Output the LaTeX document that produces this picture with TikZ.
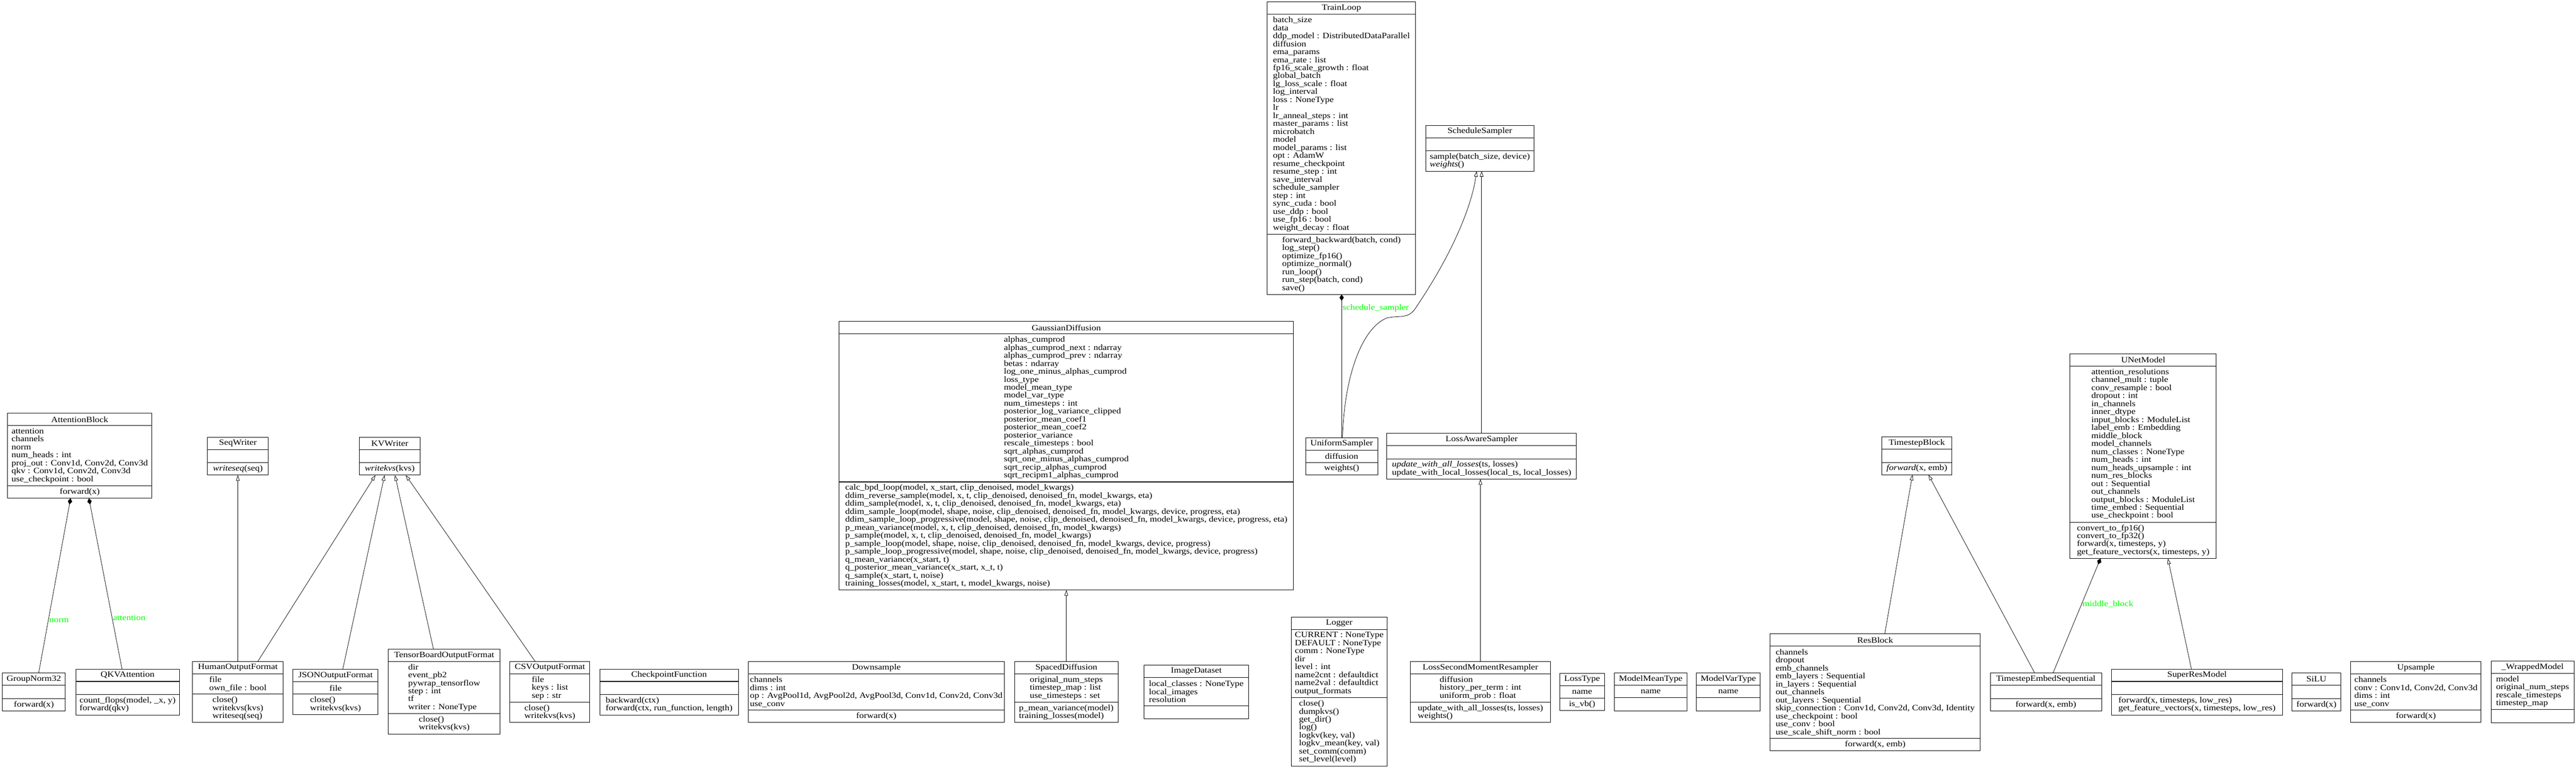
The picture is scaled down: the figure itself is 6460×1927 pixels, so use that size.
\documentclass[tikz,border=0pt]{standalone}
\usepackage{fontspec}
\setmainfont{Liberation Serif}[FakeStretch=1.137]
\usetikzlibrary{arrows.meta,calc,fit}
\definecolor{labelgreen}{RGB}{0,255,0}
\newcommand\umlfont{\fontsize{10.2pt}{10pt}\selectfont}
\tikzset{
  umlframe/.style={draw, line width=0.65pt, inner sep=0pt, outer sep=0pt},
  umlline/.style={line width=0.65pt},
  umltext/.style={inner sep=0pt, align=left, font=\umlfont},
  inh/.style={line width=0.5pt, -{Triangle[open, fill=white, length=7pt, width=4.5pt]}},
  comp/.style={line width=0.5pt, -{Diamond[length=8pt, width=5.5pt]}},
  lbl/.style={text=labelgreen, inner sep=1pt, font=\umlfont},
}
% #1 name, #2 x left, #3 x right, #4 y top, #5 attribute lines, #6 method lines,
% #7 header, #8 attributes, #9 methods
\newcommand\umlbox[9]{%
  \ifnum#5=0 \def\umlha{33}\else\pgfmathsetmacro\umlha{20*#5+11}\fi
  \ifnum#6=0 \def\umlhm{33}\else\pgfmathsetmacro\umlhm{20*#6+11}\fi
  \pgfmathsetmacro\umlya{#4+31}%
  \pgfmathsetmacro\umlyb{\umlya+\umlha}%
  \pgfmathsetmacro\umlyc{\umlyb+\umlhm}%
  \pgfmathsetmacro\umlxm{(#2+#3)/2}%
  \node[umlframe, fit={(#2,#4) (#3,\umlyc)}] (#1) {};
  \draw[umlline] (#2,\umlya) -- (#3,\umlya) (#2,\umlyb) -- (#3,\umlyb);
  \node[umltext] (#1-h) at (\umlxm,{(#4+\umlya)/2}) {#7};
  \node[umltext] (#1-a) at (\umlxm,{(\umlya+\umlyb)/2}) {#8};
  \node[umltext] (#1-m) at (\umlxm,{(\umlyb+\umlyc)/2}) {#9};
}
\begin{document}
\begin{tikzpicture}[x=0.5pt,y=-0.5pt]
\useasboundingbox[fill=white] (0,0) rectangle (6460,1927);

% ---------- upper part ----------
\umlbox{trainloop}{3178}{3550}{5}{27}{7}{TrainLoop}
{batch\_size\\data\\ddp\_model : DistributedDataParallel\\diffusion\\ema\_params\\ema\_rate : list\\fp16\_scale\_growth : float\\global\_batch\\lg\_loss\_scale : float\\log\_interval\\loss : NoneType\\lr\\lr\_anneal\_steps : int\\master\_params : list\\microbatch\\model\\model\_params : list\\opt : AdamW\\resume\_checkpoint\\resume\_step : int\\save\_interval\\schedule\_sampler\\step : int\\sync\_cuda : bool\\use\_ddp : bool\\use\_fp16 : bool\\weight\_decay : float}
{forward\_backward(batch, cond)\\log\_step()\\optimize\_fp16()\\optimize\_normal()\\run\_loop()\\run\_step(batch, cond)\\save()}

\umlbox{ssamp}{3575}{3847}{314}{0}{2}{ScheduleSampler}{}
{sample(batch\_size, device)\\\textit{weights}()}

\umlbox{attn}{19}{381}{1036}{7}{1}{AttentionBlock}
{attention\\channels\\norm\\num\_heads : int\\proj\_out : Conv1d, Conv2d, Conv3d\\qkv : Conv1d, Conv2d, Conv3d\\use\_checkpoint : bool}
{forward(x)}

\umlbox{seqw}{520}{673}{1096}{0}{1}{SeqWriter}{}{\textit{writeseq}(seq)}
\umlbox{kvw}{901}{1054}{1096}{0}{1}{KVWriter}{}{\textit{writekvs}(kvs)}

\umlbox{gauss}{2104}{3244}{806}{18}{13}{GaussianDiffusion}
{alphas\_cumprod\\alphas\_cumprod\_next : ndarray\\alphas\_cumprod\_prev : ndarray\\betas : ndarray\\log\_one\_minus\_alphas\_cumprod\\loss\_type\\model\_mean\_type\\model\_var\_type\\num\_timesteps : int\\posterior\_log\_variance\_clipped\\posterior\_mean\_coef1\\posterior\_mean\_coef2\\posterior\_variance\\rescale\_timesteps : bool\\sqrt\_alphas\_cumprod\\sqrt\_one\_minus\_alphas\_cumprod\\sqrt\_recip\_alphas\_cumprod\\sqrt\_recipm1\_alphas\_cumprod}
{calc\_bpd\_loop(model, x\_start, clip\_denoised, model\_kwargs)\\ddim\_reverse\_sample(model, x, t, clip\_denoised, denoised\_fn, model\_kwargs, eta)\\ddim\_sample(model, x, t, clip\_denoised, denoised\_fn, model\_kwargs, eta)\\ddim\_sample\_loop(model, shape, noise, clip\_denoised, denoised\_fn, model\_kwargs, device, progress, eta)\\ddim\_sample\_loop\_progressive(model, shape, noise, clip\_denoised, denoised\_fn, model\_kwargs, device, progress, eta)\\p\_mean\_variance(model, x, t, clip\_denoised, denoised\_fn, model\_kwargs)\\p\_sample(model, x, t, clip\_denoised, denoised\_fn, model\_kwargs)\\p\_sample\_loop(model, shape, noise, clip\_denoised, denoised\_fn, model\_kwargs, device, progress)\\p\_sample\_loop\_progressive(model, shape, noise, clip\_denoised, denoised\_fn, model\_kwargs, device, progress)\\q\_mean\_variance(x\_start, t)\\q\_posterior\_mean\_variance(x\_start, x\_t, t)\\q\_sample(x\_start, t, noise)\\training\_losses(model, x\_start, t, model\_kwargs, noise)}

\umlbox{unif}{3274}{3455}{1097}{1}{1}{UniformSampler}{diffusion}{weights()}
\umlbox{las}{3478}{3953}{1086}{0}{2}{LossAwareSampler}{}
{\textit{update\_with\_all\_losses}(ts, losses)\\update\_with\_local\_losses(local\_ts, local\_losses)}
\umlbox{tsb}{4719}{4895}{1095}{0}{1}{TimestepBlock}{}{\textit{forward}(x, emb)}

\umlbox{unet}{5191}{5558}{887}{19}{4}{UNetModel}
{attention\_resolutions\\channel\_mult : tuple\\conv\_resample : bool\\dropout : int\\in\_channels\\inner\_dtype\\input\_blocks : ModuleList\\label\_emb : Embedding\\middle\_block\\model\_channels\\num\_classes : NoneType\\num\_heads : int\\num\_heads\_upsample : int\\num\_res\_blocks\\out : Sequential\\out\_channels\\output\_blocks : ModuleList\\time\_embed : Sequential\\use\_checkpoint : bool}
{convert\_to\_fp16()\\convert\_to\_fp32()\\forward(x, timesteps, y)\\get\_feature\_vectors(x, timesteps, y)}

% ---------- bottom row ----------
\umlbox{gn}{6}{164}{1687}{0}{1}{GroupNorm32}{}{forward(x)}
\umlbox{qkv}{190}{450}{1677}{0}{2}{QKVAttention}{}{count\_flops(model, \_x, y)\\forward(qkv)}
\umlbox{human}{483}{710}{1658}{2}{3}{HumanOutputFormat}{file\\own\_file : bool}{close()\\writekvs(kvs)\\writeseq(seq)}
\umlbox{json}{735}{948}{1678}{1}{2}{JSONOutputFormat}{file}{close()\\writekvs(kvs)}
\umlbox{tb}{974}{1254}{1627}{6}{2}{TensorBoardOutputFormat}{dir\\event\_pb2\\pywrap\_tensorflow\\step : int\\tf\\writer : NoneType}{close()\\writekvs(kvs)}
\umlbox{csv}{1279}{1479}{1658}{3}{2}{CSVOutputFormat}{file\\keys : list\\sep : str}{close()\\writekvs(kvs)}
\umlbox{ckpt}{1504}{1852}{1677}{0}{2}{CheckpointFunction}{}{backward(ctx)\\forward(ctx, run\_function, length)}
\umlbox{down}{1876}{2519}{1658}{4}{1}{Downsample}{channels\\dims : int\\op : AvgPool1d, AvgPool2d, AvgPool3d, Conv1d, Conv2d, Conv3d\\use\_conv}{forward(x)}
\umlbox{spaced}{2544}{2804}{1658}{3}{2}{SpacedDiffusion}{original\_num\_steps\\timestep\_map : list\\use\_timesteps : set}{p\_mean\_variance(model)\\training\_losses(model)}
\umlbox{imgds}{2869}{3131}{1667}{3}{0}{ImageDataset}{local\_classes : NoneType\\local\_images\\resolution}{}
\umlbox{logger}{3238}{3479}{1547}{8}{8}{Logger}
{CURRENT : NoneType\\DEFAULT : NoneType\\comm : NoneType\\dir\\level : int\\name2cnt : defaultdict\\name2val : defaultdict\\output\_formats}
{close()\\dumpkvs()\\get\_dir()\\log()\\logkv(key, val)\\logkv\_mean(key, val)\\set\_comm(comm)\\set\_level(level)}
\umlbox{lsmr}{3537}{3888}{1658}{3}{2}{LossSecondMomentResampler}{diffusion\\history\_per\_term : int\\uniform\_prob : float}{update\_with\_all\_losses(ts, losses)\\weights()}
\umlbox{losstype}{3911}{4024}{1688}{1}{1}{LossType}{name}{is\_vb()}
\umlbox{mmt}{4049}{4230}{1687}{1}{0}{ModelMeanType}{name}{}
\umlbox{mvt}{4254}{4414}{1687}{1}{0}{ModelVarType}{name}{}
\umlbox{resblock}{4439}{4966}{1589}{11}{1}{ResBlock}
{channels\\dropout\\emb\_channels\\emb\_layers : Sequential\\in\_layers : Sequential\\out\_channels\\out\_layers : Sequential\\skip\_connection : Conv1d, Conv2d, Conv3d, Identity\\use\_checkpoint : bool\\use\_conv : bool\\use\_scale\_shift\_norm : bool}
{forward(x, emb)}
\umlbox{tes}{4991}{5270}{1687}{0}{1}{TimestepEmbedSequential}{}{forward(x, emb)}
\umlbox{superres}{5295}{5724}{1677}{0}{2}{SuperResModel}{}{forward(x, timesteps, low\_res)\\get\_feature\_vectors(x, timesteps, low\_res)}
\umlbox{silu}{5748}{5870}{1687}{0}{1}{SiLU}{}{forward(x)}
\umlbox{upsample}{5895}{6222}{1658}{4}{1}{Upsample}{channels\\conv : Conv1d, Conv2d, Conv3d\\dims : int\\use\_conv}{forward(x)}
\umlbox{wrapped}{6247}{6455}{1657}{4}{0}{\_WrappedModel}{model\\original\_num\_steps\\rescale\_timesteps\\timestep\_map}{}

% ---------- connectors ----------
\draw[comp] ($(gn.north)+(12,0)$) -- node[lbl, pos=0.3, anchor=west] (lbl-norm) {norm} ($(attn.south)+(-23,0)$);
\draw[comp] ($(qkv.north)+(-14,0)$) -- node[lbl, pos=0.3, anchor=west] (lbl-attention) {attention} ($(attn.south)+(23,0)$);

\draw[inh] (human.north) -- (human.north |- seqw.south);
\draw[inh] ($(human.north)+(50,0)$) -- ($(kvw.south)+(-36,0)$);
\draw[inh] ($(json.north)+(18,0)$) -- ($(kvw.south)+(-13,0)$);
\draw[inh] ($(tb.north)+(-27,0)$) -- ($(kvw.south)+(13,0)$);
\draw[inh] ($(csv.north)+(-37,0)$) -- ($(kvw.south)+(40,0)$);

\draw[inh] (spaced.north) -- (spaced.north |- gauss.south);

\draw[comp] (unif.north) -- node[lbl, pos=0.905, anchor=west] (lbl-sched) {schedule\_sampler} (unif.north |- trainloop.south);
\draw[inh] ($(unif.north)+(2,0)$) .. controls (3372,930) and (3420,820) .. (3478,797)
  .. controls (3510,790) and (3530,800) .. (3548,775)
  .. controls (3640,640) and (3690,520) .. ($(ssamp.south)+(-8,0)$);
\draw[inh] (las.north) -- (las.north |- ssamp.south);
\draw[inh] (lsmr.north) -- (lsmr.north |- las.south);

\draw[inh] ($(resblock.north)+(24,0)$) -- ($(tsb.south)+(-11,0)$);
\draw[inh] ($(tes.north)+(-28,0)$) -- ($(tsb.south)+(29,0)$);
\draw[comp] ($(tes.north)+(18,0)$) -- node[lbl, pos=0.6, anchor=west] (lbl-middle) {middle\_block} ($(unet.south)+(-107,0)$);
\draw[inh] ($(superres.north)+(-14,0)$) -- ($(unet.south)+(62,0)$);
\end{tikzpicture}
\end{document}
